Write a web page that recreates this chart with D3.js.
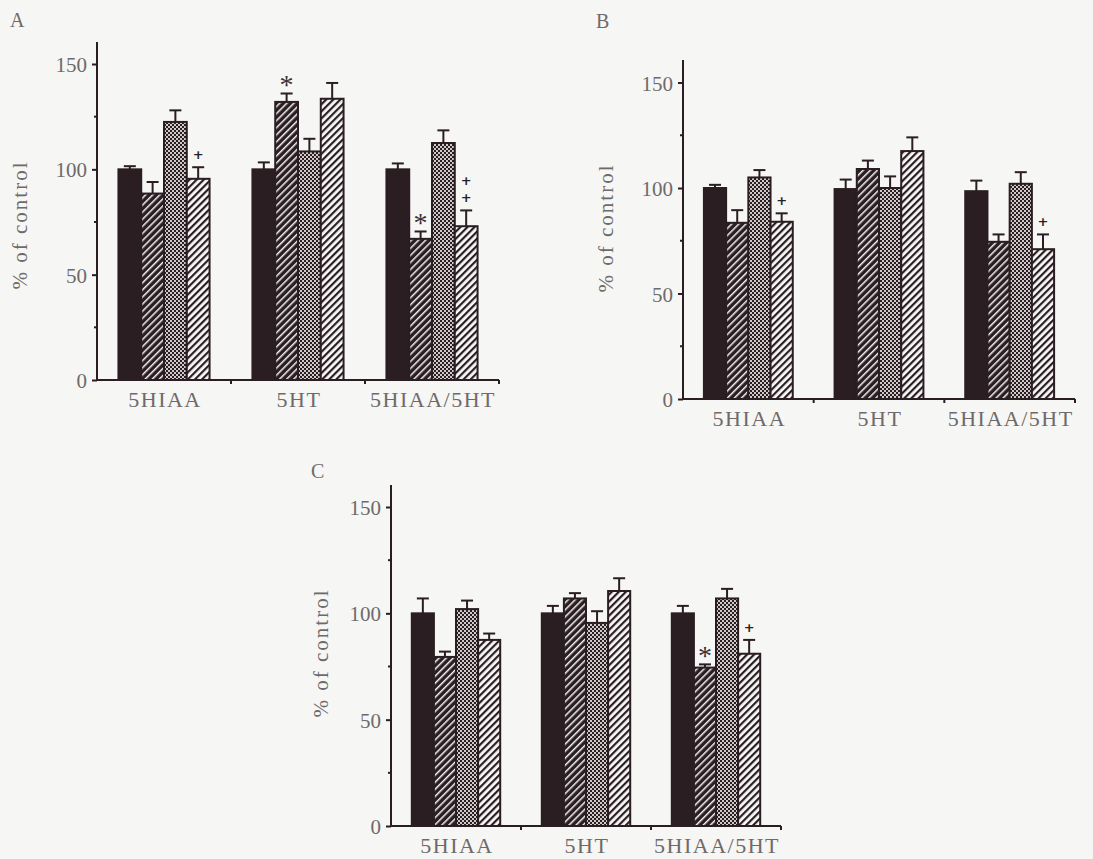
<!DOCTYPE html>
<html>
<head>
<meta charset="utf-8">
<script src="https://cdn.jsdelivr.net/npm/d3@7"></script>
<style>
  html, body { margin: 0; padding: 0; background: #f6f6f4; }
  svg { display: block; }
  text { font-family: "Liberation Serif", "Times New Roman", serif; }
  text.plus { font-family: "DejaVu Sans", sans-serif; font-weight: bold; }
</style>
</head>
<body>
<svg id="chart" width="1093" height="859"></svg>
<script>
// Groups (x categories) and treatment series
const categories = ["5HIAA", "5HT", "5HIAA/5HT"];
const series = ["s1", "s2", "s3", "s4"];
const yTicks = [0, 50, 100, 150];
const yMinorTicks = [25, 75, 125];

// Panel A: mean and upper error value, per category, per series
const meanA = [[100, 88.5, 122.5, 95.5], [100, 132, 108.5, 133.5], [100, 67, 112.5, 73]];
const errA  = [[101.5, 94, 128, 101], [103.3, 136, 114.5, 141], [102.8, 70.5, 118.5, 80.5]];
// Panel B
const meanB = [[100, 83.5, 105, 84], [99.5, 109, 100, 117.5], [98.5, 74.5, 102, 71]];
const errB  = [[101.5, 89.5, 108.5, 88], [104, 113, 105.5, 124], [103.5, 78, 107.5, 78]];
// Panel C
const meanC = [[100, 79.5, 102, 87.5], [100, 107, 95.5, 110.5], [100, 74.5, 107, 81]];
const errC  = [[107, 82, 106, 90.5], [103.5, 109.5, 101, 116.5], [103.5, 76, 111.5, 87.5]];

// Significance marks: [category index, series index, text]
const marksA = [[0, 3, "+"], [1, 1, "*"], [2, 1, "*"], [2, 3, "++"]];
const marksB = [[0, 3, "+"], [2, 3, "+"]];
const marksC = [[2, 1, "*"], [2, 3, "+"]];

const ink = "#2a1e22";
const textGray = "#6e6a6a";
const svg = d3.select("#chart");

// Fill patterns
const defs = svg.append("defs");
const hatchDark = defs.append("pattern").attr("id", "hatchDark")
  .attr("patternUnits", "userSpaceOnUse").attr("width", 5).attr("height", 5)
  .attr("patternTransform", "rotate(45)");
hatchDark.append("rect").attr("width", 5).attr("height", 5).attr("fill", ink);
hatchDark.append("rect").attr("x", 0).attr("width", 1.5).attr("height", 5).attr("fill", "#f4f2f2");

const hatchLight = defs.append("pattern").attr("id", "hatchLight")
  .attr("patternUnits", "userSpaceOnUse").attr("width", 5).attr("height", 5)
  .attr("patternTransform", "rotate(45)");
hatchLight.append("rect").attr("width", 5).attr("height", 5).attr("fill", "#faf9f9");
hatchLight.append("rect").attr("x", 0).attr("width", 2.2).attr("height", 5).attr("fill", ink);

const checker = defs.append("pattern").attr("id", "checker")
  .attr("patternUnits", "userSpaceOnUse").attr("width", 4).attr("height", 4);
checker.append("rect").attr("width", 4).attr("height", 4).attr("fill", "#cfcaca");
checker.append("rect").attr("x", 0).attr("y", 0).attr("width", 2).attr("height", 2).attr("fill", ink);
checker.append("rect").attr("x", 2).attr("y", 2).attr("width", 2).attr("height", 2).attr("fill", ink);

const fills = { s1: ink, s2: "url(#hatchDark)", s3: "url(#checker)", s4: "url(#hatchLight)" };

function panel(cfg) {
  const g = svg.append("g");
  const y = d3.scaleLinear().domain([0, 150]).range([cfg.y0, cfg.y150]);
  const x = d3.scaleBand().domain(categories).range([cfg.x0, cfg.x1]).padding(0);
  const margin = x.bandwidth() * 0.16;
  const xs = d3.scaleBand().domain(series).range([margin, x.bandwidth() - margin]).padding(0);

  // panel letter
  g.append("text").attr("x", cfg.lx).attr("y", cfg.ly)
    .attr("font-size", 20).attr("fill", textGray).text(cfg.letter);

  // bars with upper error bars
  categories.forEach((c, ci) => {
    series.forEach((s, si) => {
      const bx = x(c) + xs(s);
      const v = cfg.mean[ci][si];
      const e = cfg.err[ci][si];
      const cx = bx + xs.bandwidth() / 2;
      g.append("line").attr("x1", cx).attr("x2", cx)
        .attr("y1", y(v)).attr("y2", y(e)).attr("stroke", ink).attr("stroke-width", 2);
      g.append("line").attr("x1", cx - 6).attr("x2", cx + 6)
        .attr("y1", y(e)).attr("y2", y(e)).attr("stroke", ink).attr("stroke-width", 2);
      g.append("rect").attr("x", bx).attr("y", y(v))
        .attr("width", xs.bandwidth()).attr("height", y(0) - y(v))
        .attr("fill", fills[s]).attr("stroke", ink).attr("stroke-width", 2);
    });
  });

  // significance marks
  cfg.marks.forEach(([ci, si, t]) => {
    const cx = x(categories[ci]) + xs(series[si]) + xs.bandwidth() / 2;
    const top = y(cfg.err[ci][si]);
    if (t === "*") {
      g.append("text").attr("x", cx).attr("y", top + 1)
        .attr("text-anchor", "middle").attr("font-size", 28)
        .attr("fill", "#3a3032").text("*");
    } else {
      t.split("").forEach((ch, k) => {
        g.append("text").attr("class", "plus").attr("text-anchor", "middle")
          .attr("x", cx).attr("y", top - 8 - k * 17)
          .attr("font-size", 13).attr("fill", ink)
          .text(ch);
      });
    }
  });

  // y axis
  const yAxis = d3.axisLeft(y).tickValues(yTicks).tickSize(5).tickPadding(5).tickFormat(d3.format("d"));
  const ya = g.append("g").attr("transform", `translate(${cfg.x0},0)`).call(yAxis);
  ya.select(".domain").remove();
  ya.selectAll(".tick line").attr("stroke", ink).attr("stroke-width", 2);
  ya.selectAll(".tick text").attr("fill", textGray).attr("font-size", 21)
    .attr("font-family", null).attr("dy", "0.36em");
  g.append("line").attr("x1", cfg.x0).attr("x2", cfg.x0)
    .attr("y1", cfg.yTop).attr("y2", y(0)).attr("stroke", ink).attr("stroke-width", 2);
  g.selectAll(".minor").data(yMinorTicks).join("line").attr("class", "minor")
    .attr("x1", cfg.x0 - 3).attr("x2", cfg.x0).attr("y1", d => y(d)).attr("y2", d => y(d))
    .attr("stroke", ink).attr("stroke-width", 2);

  // x axis
  g.append("line").attr("x1", cfg.x0).attr("x2", cfg.x1)
    .attr("y1", y(0)).attr("y2", y(0)).attr("stroke", ink).attr("stroke-width", 2);
  const seps = categories.slice(1).map(c => x(c)).concat([cfg.x1]);
  g.selectAll(".sep").data(seps).join("line").attr("class", "sep")
    .attr("x1", d => d).attr("x2", d => d).attr("y1", y(0)).attr("y2", y(0) + 4)
    .attr("stroke", ink).attr("stroke-width", 2);
  g.selectAll(".cat").data(categories).join("text").attr("class", "cat")
    .attr("x", c => x(c) + x.bandwidth() / 2 + 1).attr("y", y(0) + 27)
    .attr("text-anchor", "middle").attr("font-size", 22).attr("letter-spacing", 1.5)
    .attr("fill", textGray).text(c => c);

  // y label
  g.append("text").attr("transform", `translate(${cfg.labX},${cfg.labY}) rotate(-90)`)
    .attr("text-anchor", "middle").attr("font-size", 21).attr("letter-spacing", 2)
    .attr("fill", textGray).text("% of control");
}

panel({ letter: "A", lx: 10, ly: 27, x0: 97, x1: 499, y0: 380, y150: 64, yTop: 42,
  labX: 27, labY: 225, mean: meanA, err: errA, marks: marksA });
panel({ letter: "B", lx: 596, ly: 28, x0: 683, x1: 1075, y0: 399, y150: 82.5, yTop: 60,
  labX: 613, labY: 228, mean: meanB, err: errB, marks: marksB });
panel({ letter: "C", lx: 311, ly: 478, x0: 391, x1: 781, y0: 826, y150: 507, yTop: 485,
  labX: 328, labY: 653, mean: meanC, err: errC, marks: marksC });
</script>
</body>
</html>
